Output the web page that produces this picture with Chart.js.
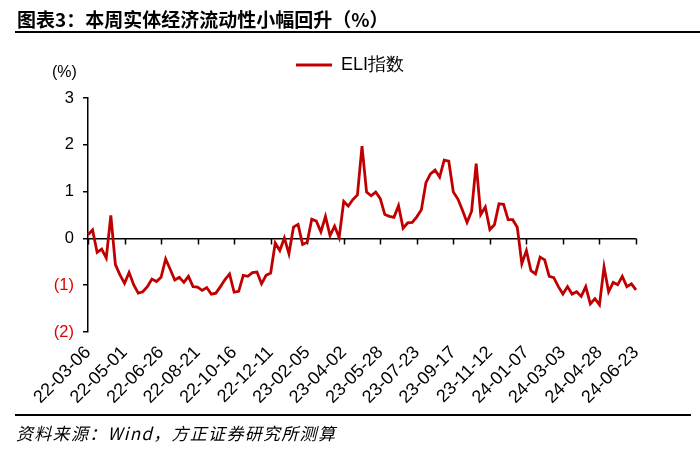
<!DOCTYPE html>
<html>
<head>
<meta charset="utf-8">
<script src="https://cdn.jsdelivr.net/npm/chart.js@4.4.1/dist/chart.umd.min.js"></script>
<style>
  html, body { margin: 0; padding: 0; background: #fff; }
  #wrap { position: relative; width: 700px; height: 449px; overflow: hidden; }
  #c { position: absolute; left: 0; top: 0; }
  .title { position: absolute; left: 17px; top: 5px; font-family: "Noto Sans CJK SC", sans-serif; font-weight: bold; font-size: 19px; color: #000; white-space: nowrap; }
  .rule { position: absolute; background: #000; }
  .source { position: absolute; left: 16px; top: 420px; font-family: "Noto Sans CJK SC", sans-serif; font-style: italic; font-size: 17px; letter-spacing: 1.3px; color: #000; white-space: nowrap; }
  .unit { position: absolute; left: 52px; top: 63px; font-family: "Liberation Sans", Arial, sans-serif; font-size: 16px; color: #000; }
</style>
</head>
<body>
<div id="wrap">
  <canvas id="c" width="700" height="449"></canvas>
  <div class="title">图表3：本周实体经济流动性小幅回升（%）</div>
  <div class="rule" style="left:15px; top:31px; width:685px; height:2px;"></div>
  <div class="unit">(%)</div>
  <div class="rule" style="left:15px; top:414px; width:676px; height:2px;"></div>
  <div class="source">资料来源：Wind，方正证券研究所测算</div>
</div>
<script>
// Weekly observation dates (Sundays), 2022-03-06 .. 2024-06-23
const startDate = "2022-03-06";
const weekCount = 121;
const categories = [];
(function () {
  const d0 = new Date(startDate + "T00:00:00Z");
  for (let i = 0; i < weekCount; i++) {
    const d = new Date(d0.getTime() + i * 7 * 86400000);
    const yy = String(d.getUTCFullYear()).slice(2);
    const mm = String(d.getUTCMonth() + 1).padStart(2, "0");
    const dd = String(d.getUTCDate()).padStart(2, "0");
    categories.push(yy + "-" + mm + "-" + dd);
  }
})();

const seriesName = "ELI指数";
const eliValues = [
  0.08, 0.18, -0.30, -0.23, -0.42, 0.49, -0.56, -0.78, -0.96, -0.73,
  -0.99, -1.17, -1.14, -1.03, -0.87, -0.92, -0.83, -0.44, -0.66, -0.89,
  -0.83, -0.94, -0.81, -1.03, -1.04, -1.11, -1.05, -1.19, -1.17, -1.03,
  -0.88, -0.76, -1.15, -1.13, -0.79, -0.81, -0.73, -0.72, -0.97, -0.79,
  -0.74, -0.10, -0.26, 0.01, -0.33, 0.24, 0.30, -0.13, -0.08, 0.41,
  0.37, 0.14, 0.47, 0.06, 0.26, 0.02, 0.79, 0.69, 0.83, 0.93,
  1.97, 0.99, 0.91, 0.99, 0.85, 0.51, 0.47, 0.45, 0.70, 0.22,
  0.33, 0.34, 0.46, 0.61, 1.19, 1.38, 1.46, 1.31, 1.67, 1.65,
  0.99, 0.84, 0.60, 0.34, 0.58, 1.60, 0.51, 0.67, 0.19, 0.29,
  0.74, 0.73, 0.40, 0.40, 0.24, -0.54, -0.26, -0.69, -0.76, -0.40,
  -0.46, -0.81, -0.84, -1.03, -1.19, -1.03, -1.19, -1.14, -1.24, -1.03,
  -1.40, -1.29, -1.42, -0.61, -1.14, -0.94, -0.99, -0.81, -1.03, -0.97,
  -1.10
];

const tickEvery = 8;
const yMin = -2, yMax = 3, yStep = 1;
const yTickLabels = { "3": "3", "2": "2", "1": "1", "0": "0", "-1": "(1)", "-2": "(2)" };

const lineColor = "#C00000";
const negColor = "#E00000";
const fontFamily = "'Liberation Sans', Arial, sans-serif";

// Draw x-axis tick marks on the zero line, using the library's scales
const zeroTicks = {
  id: "zeroTicks",
  beforeDatasetsDraw(chart) {
    const x = chart.scales.x, y = chart.scales.y;
    const y0 = y.getPixelForValue(0);
    const ctx = chart.ctx;
    ctx.save();
    ctx.strokeStyle = "#000";
    ctx.lineWidth = 1.5;
    ctx.beginPath();
    for (let i = 0; i < categories.length; i += tickEvery) {
      const px = Math.round(x.getPixelForValue(i)) + 0.5;
      ctx.moveTo(px, y0);
      ctx.lineTo(px, y0 + 6);
    }
    ctx.stroke();
    ctx.restore();
  }
};

new Chart(document.getElementById("c"), {
  type: "line",
  data: {
    labels: categories,
    datasets: [{
      label: seriesName,
      data: eliValues,
      borderColor: lineColor,
      backgroundColor: lineColor,
      borderWidth: 2.8,
      pointRadius: 0,
      tension: 0,
      fill: false
    }]
  },
  options: {
    responsive: false,
    animation: false,
    devicePixelRatio: 1,
    layout: { padding: { left: 0, right: 0, top: 22, bottom: 0 } },
    plugins: {
      legend: {
        display: true,
        position: "top",
        align: "center",
        labels: {
          usePointStyle: true,
          pointStyle: "line",
          pointStyleWidth: 36,
          boxHeight: 3,
          color: "#000",
          font: { family: fontFamily, size: 18 },
          padding: 34
        }
      },
      tooltip: { enabled: false }
    },
    scales: {
      x: {
        type: "category",
        offset: false,
        grid: { display: false },
        border: { display: false },
        ticks: {
          autoSkip: false,
          maxRotation: 45,
          minRotation: 45,
          padding: 2,
          color: "#000",
          font: { family: fontFamily, size: 18 },
          callback: function (val, idx) {
            return idx % tickEvery === 0 ? categories[idx] : null;
          }
        },
        afterFit: function (s) { s.height = 117; }
      },
      xTopSpace: {
        type: "linear",
        position: "top",
        display: true,
        grid: { display: false },
        border: { display: false },
        ticks: { display: false },
        afterFit: function (s) { s.height = 14; }
      },
      y: {
        min: yMin,
        max: yMax,
        border: { display: true, color: "#000", width: 1.5 },
        grid: {
          drawOnChartArea: true,
          drawTicks: true,
          tickLength: 5,
          lineWidth: 1.5,
          tickColor: "#000",
          color: function (ctx) { return ctx.tick && ctx.tick.value === 0 ? "#000" : "rgba(0,0,0,0)"; }
        },
        ticks: {
          stepSize: yStep,
          padding: 9,
          font: { family: fontFamily, size: 16.5 },
          color: function (ctx) { return ctx.tick.value < 0 ? negColor : "#000"; },
          callback: function (v) { return yTickLabels[String(v)]; }
        },
        afterFit: function (s) { s.width = 88; }
      },
      yRightSpace: {
        type: "linear",
        position: "right",
        display: true,
        grid: { display: false },
        border: { display: false },
        ticks: { display: false },
        afterFit: function (s) { s.width = 64; }
      }
    }
  },
  plugins: [zeroTicks]
});
</script>
</body>
</html>
